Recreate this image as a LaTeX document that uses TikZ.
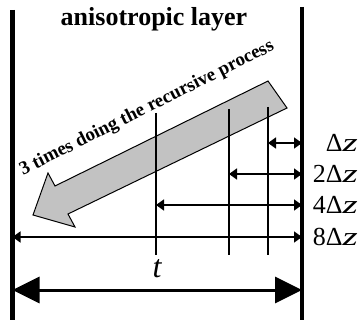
\documentclass[tikz,border=0pt]{standalone}
\usepackage{fontspec}
\setmainfont{Liberation Serif}
\usetikzlibrary{arrows.meta}
\tikzset{
  wall/.style={line width=4.5pt},
  cutline/.style={line width=1.4pt},
  dimline/.style={line width=1.5pt, {Triangle[length=8pt,width=11pt]}-{Triangle[length=8pt,width=11pt]}},
  bigdim/.style={line width=3pt, {Triangle[length=27pt,width=26pt]}-{Triangle[length=27pt,width=26pt]}},
  dimlabel/.style={right, inner sep=1pt, text width=54pt, align=right, font=\fontsize{26}{26}\selectfont},
}
\newcommand{\dz}{Δ\scalebox{1.5}[1]{\itshape z}}

\begin{document}
\begin{tikzpicture}[x=1pt, y=-1pt]
\useasboundingbox (0,0) rectangle (358,320);
\coordinate (wallL) at (12.5,0);
\coordinate (wallR) at (302,0);
\coordinate (cut1) at (268,107);
\coordinate (cut2) at (229,109);
\coordinate (cut3) at (156,113);
\coordinate (bottom) at (0,255);

\draw[fill=black!24, line width=1pt, line join=miter]
  (268,81) -- (287,108) -- (68,214) -- (75,227) -- (33,215) -- (48,173) -- (55,186) -- cycle;
\node[rotate=26.6, anchor=base, inner sep=0, font=\bfseries\fontsize{19}{19}\selectfont] (proc) at (149,112.5) {3 times doing the recursive process};

\foreach \c in {cut1,cut2,cut3}
  \draw[cutline] (\c) -- (\c |- bottom);

\foreach \c/\y/\lbl in {cut1/143/\dz, cut2/174/2\dz, cut3/205/4\dz, wallL/237/8\dz}
  \draw[dimline] (\c |- 0,\y) -- (wallR |- 0,\y) node[dimlabel] {\lbl};

\draw[bigdim] (wallL |- 0,290) -- (wallR |- 0,290);
\node[font=\itshape\fontsize{32}{32}\selectfont, inner sep=0] (thick) at (157,269) {t};

\draw[wall] (wallL |- 0,10) -- (wallL |- 0,320);
\draw[wall] (wallR |- 0,7) -- (wallR |- 0,320);
\node[font=\bfseries\fontsize{26}{26}\selectfont, anchor=base, inner sep=0] (title) at (154,26) {anisotropic layer};
\end{tikzpicture}
\end{document}
